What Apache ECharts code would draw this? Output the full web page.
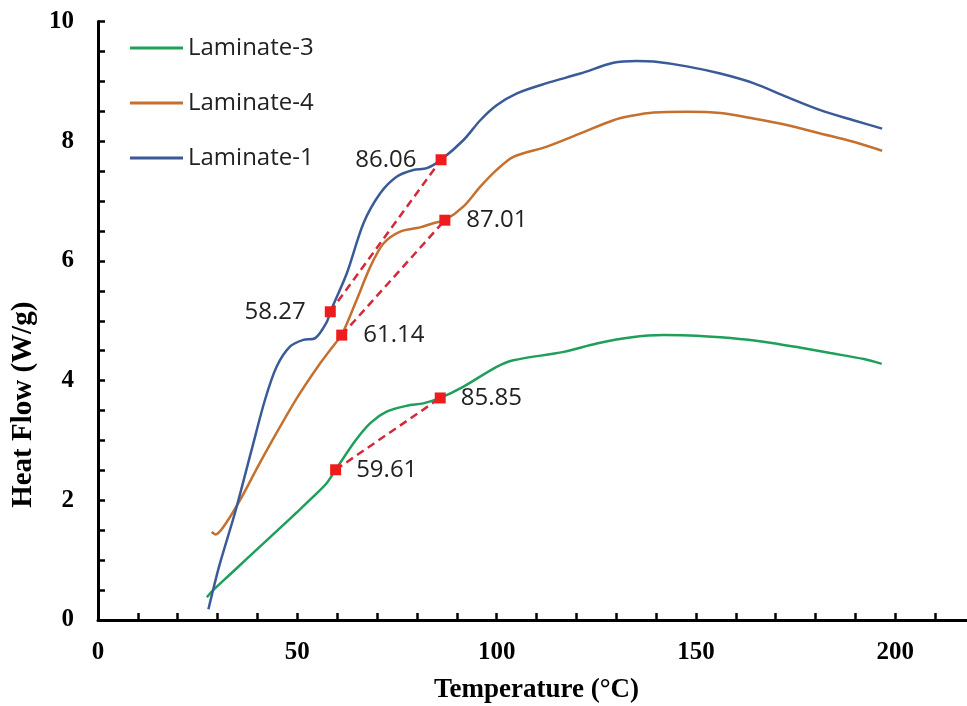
<!DOCTYPE html>
<html>
<head>
<meta charset="utf-8">
<script src="https://cdn.jsdelivr.net/npm/echarts@6/dist/echarts.min.js"></script>
<style>
  html, body { margin: 0; padding: 0; background: #fff; }
  #chart { width: 967px; height: 706px; }
</style>
</head>
<body>
<div id="chart"></div>
<script>
// Heat flow (W/g) vs temperature (°C)
const lam3Temp = [27.3, 28.9, 33.1, 37.3, 41.5, 45.7, 49.9, 54.0, 57.4, 59.61, 64.5, 68.3, 72.4, 77.5, 81.6, 85.85, 91.7, 100.0, 104.2, 116.8, 125.1, 133.5, 141.9, 150.2, 158.6, 166.9, 175.3, 183.7, 192.1, 196.6];
const lam3Heat = [0.38, 0.50, 0.76, 1.02, 1.28, 1.54, 1.80, 2.06, 2.29, 2.51, 2.99, 3.29, 3.48, 3.58, 3.62, 3.71, 3.90, 4.23, 4.34, 4.48, 4.62, 4.72, 4.76, 4.75, 4.71, 4.65, 4.56, 4.46, 4.36, 4.28];

const lam4Temp = [28.5, 29.5, 31.4, 35.6, 40.0, 45.0, 50.0, 55.0, 59.5, 61.14, 64.9, 68.3, 71.6, 75.8, 80.8, 84.1, 87.01, 91.7, 95.9, 100.0, 104.2, 112.6, 121.0, 129.3, 133.5, 139.4, 147.7, 156.1, 164.4, 172.8, 181.2, 189.5, 196.7];
const lam4Heat = [1.47, 1.43, 1.55, 2.00, 2.55, 3.15, 3.72, 4.22, 4.62, 4.76, 5.35, 5.90, 6.29, 6.49, 6.56, 6.63, 6.68, 6.91, 7.24, 7.52, 7.74, 7.91, 8.13, 8.35, 8.42, 8.48, 8.49, 8.47, 8.38, 8.27, 8.13, 7.99, 7.84];

const lam1Temp = [27.7, 30.4, 34.4, 38.6, 41.9, 44.8, 48.2, 51.5, 54.5, 57.4, 58.27, 62.4, 66.6, 70.8, 75.0, 79.1, 82.5, 86.06, 91.7, 95.9, 100.0, 105.1, 112.6, 121.0, 129.3, 135.0, 139.4, 147.7, 156.1, 164.4, 172.8, 181.2, 189.5, 196.7];
const lam1Heat = [0.18, 0.90, 1.80, 2.86, 3.68, 4.23, 4.57, 4.68, 4.71, 4.98, 5.15, 5.79, 6.63, 7.13, 7.41, 7.52, 7.55, 7.69, 8.02, 8.35, 8.60, 8.80, 8.97, 9.13, 9.31, 9.34, 9.33, 9.25, 9.13, 8.97, 8.74, 8.52, 8.35, 8.21];

// onset / end points joined by dashed lines
const lam1Marks = [[58.27, 5.15], [86.06, 7.69]];
const lam4Marks = [[61.14, 4.76], [87.01, 6.68]];
const lam3Marks = [[59.61, 2.51], [85.85, 3.71]];

const xTickLabels = [0, 50, 100, 150, 200];
const yTickLabels = [0, 2, 4, 6, 8, 10];

const zip = (xs, ys) => xs.map((x, i) => [x, ys[i]]);

const serifBold = { fontFamily: 'Liberation Serif', fontWeight: 'bold', color: '#000' };
const sans = 'Open Sans';

function curve(name, color, xs, ys) {
    return {
        name,
        type: 'line',
        data: zip(xs, ys),
        smooth: 0.3,
        symbol: 'none',
        color,
        lineStyle: { color, width: 2.5 },
        z: 2,
    };
}

function marks(points, side, dist) {
    return {
        type: 'line',
        data: points,
        symbol: 'rect',
        symbolSize: 11,
        itemStyle: { color: '#ee1c1c' },
        lineStyle: { color: '#d4283c', width: 2.5, type: [8, 5] },
        label: {
            show: true,
            position: side,
            distance: dist,
            fontFamily: sans,
            fontSize: 24,
            color: '#222',
            formatter: (p) => p.value[0].toFixed(2),
        },
        z: 5,
    };
}

const chart = echarts.init(document.getElementById('chart'), null, { renderer: 'canvas' });

const option = {
    backgroundColor: '#fff',
    animation: false,
    grid: { left: 98, width: 877, top: 21.5, bottom: 86, outerBoundsMode: 'none', containLabel: false },
    legend: {
        data: ['Laminate-3', 'Laminate-4', 'Laminate-1'],
        orient: 'vertical',
        left: 125,
        top: 30,
        icon: 'rect',
        itemWidth: 53,
        itemHeight: 3,
        itemGap: 29,
        textStyle: { fontFamily: sans, fontSize: 24, color: '#222', lineHeight: 26 },
    },
    xAxis: {
        type: 'value',
        min: 0,
        max: 220,
        interval: 10,
        splitLine: { show: false },
        axisLine: { lineStyle: { color: '#000', width: 3 } },
        axisTick: { inside: true, length: 7, lineStyle: { color: '#000', width: 2.5 } },
        axisLabel: {
            ...serifBold,
            fontSize: 25,
            margin: 20,
            formatter: (v) => (xTickLabels.includes(v) ? String(v) : ''),
        },
        name: 'Temperature (°C)',
        nameLocation: 'middle',
        nameGap: 57,
        nameTextStyle: { ...serifBold, fontSize: 27 },
    },
    yAxis: {
        type: 'value',
        min: 0,
        max: 10,
        interval: 0.5,
        splitLine: { show: false },
        axisLine: { show: true, lineStyle: { color: '#000', width: 3 } },
        axisTick: { show: true, inside: true, length: 7, lineStyle: { color: '#000', width: 2.5 } },
        axisLabel: {
            ...serifBold,
            fontSize: 25,
            margin: 24,
            formatter: (v) => (yTickLabels.includes(v) ? String(v) : ''),
        },
        name: 'Heat Flow (W/g)',
        nameLocation: 'middle',
        nameRotate: 90,
        nameGap: 60,
        nameTextStyle: { ...serifBold, fontSize: 29, padding: [0, 168, 0, 0] },
    },
    series: [
        curve('Laminate-3', '#1f9f5a', lam3Temp, lam3Heat),
        curve('Laminate-4', '#c4702f', lam4Temp, lam4Heat),
        curve('Laminate-1', '#3b5a98', lam1Temp, lam1Heat),
        marks(lam1Marks, 'left', 19),
        marks(lam4Marks, 'right', 16),
        marks(lam3Marks, 'right', 15),
    ],
};

chart.setOption(option);
</script>
</body>
</html>
